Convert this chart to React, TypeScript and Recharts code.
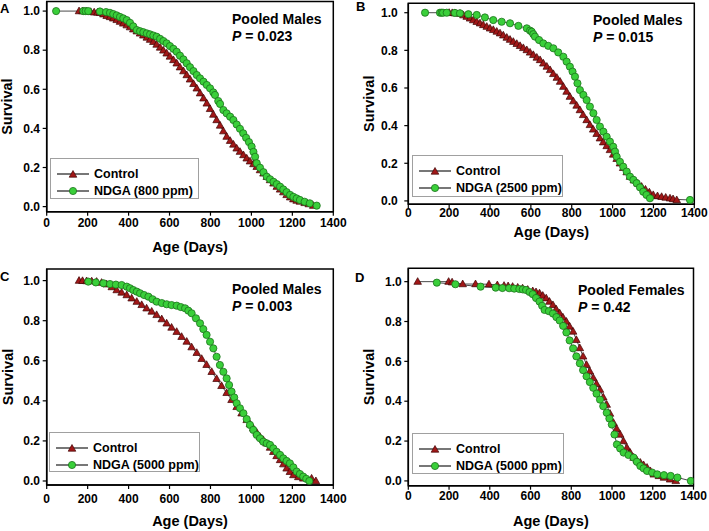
import React from "react";
import { LineChart, Line, XAxis, YAxis, ReferenceArea, Legend } from "recharts";

type Pt = [number, number]; // [age in days, surviving fraction]

const xTicks = [0, 200, 400, 600, 800, 1000, 1200, 1400];
const yTicks = [0, 0.2, 0.4, 0.6, 0.8, 1.0];
const panelLetters = ["A", "B", "C", "D"];
const cohorts = ["Pooled Males", "Pooled Males", "Pooled Males", "Pooled Females"];
const pValues = ["0.023", "0.015", "0.003", "0.42"];
const doses = ["NDGA (800 ppm)", "NDGA (2500 ppm)", "NDGA (5000 ppm)", "NDGA (5000 ppm)"];

const controlA: Pt[] = [
  [158, 1.0], [175, 1.0], [195, 0.998], [215, 0.996], [232, 0.994], [248, 0.993], [261, 0.991], [277, 0.984],
  [293, 0.976], [309, 0.97], [325, 0.963], [342, 0.955], [358, 0.946], [374, 0.937], [391, 0.928], [407, 0.918],
  [423, 0.907], [440, 0.897], [456, 0.886], [472, 0.876], [489, 0.865], [505, 0.854], [521, 0.843], [537, 0.829],
  [554, 0.814], [570, 0.799], [586, 0.784], [602, 0.768], [619, 0.75], [635, 0.733], [651, 0.713], [668, 0.693],
  [684, 0.673], [700, 0.651], [717, 0.628], [733, 0.605], [749, 0.58], [766, 0.554], [782, 0.528], [798, 0.5],
  [814, 0.471], [830, 0.443], [847, 0.415], [863, 0.386], [879, 0.358], [896, 0.337], [912, 0.318], [928, 0.298],
  [944, 0.281], [961, 0.264], [977, 0.247], [993, 0.232], [1010, 0.218], [1026, 0.204], [1042, 0.187],
  [1059, 0.17], [1075, 0.153], [1091, 0.136], [1108, 0.119], [1124, 0.102], [1140, 0.088], [1156, 0.074],
  [1172, 0.06], [1189, 0.048], [1205, 0.038], [1221, 0.031], [1237, 0.026], [1260, 0.019], [1280, 0.013],
  [1302, 0.005],
];
const ndgaA: Pt[] = [
  [46, 1.0], [179, 1.0], [190, 1.0], [203, 1.0], [260, 0.998], [290, 0.995], [309, 0.991], [325, 0.985],
  [342, 0.978], [358, 0.97], [374, 0.963], [391, 0.954], [407, 0.94], [423, 0.922], [440, 0.903], [456, 0.897],
  [472, 0.892], [489, 0.886], [505, 0.881], [521, 0.875], [537, 0.869], [554, 0.858], [570, 0.847], [586, 0.835],
  [602, 0.821], [619, 0.807], [635, 0.792], [651, 0.772], [668, 0.753], [684, 0.733], [700, 0.713], [717, 0.693],
  [733, 0.673], [749, 0.656], [766, 0.639], [782, 0.622], [798, 0.605], [814, 0.584], [822, 0.571], [838, 0.54],
  [847, 0.525], [863, 0.494], [879, 0.477], [896, 0.46], [912, 0.443], [928, 0.42], [944, 0.398], [960, 0.375],
  [974, 0.352], [988, 0.33], [1001, 0.307], [1010, 0.28], [1018, 0.255], [1026, 0.222], [1042, 0.199],
  [1059, 0.176], [1075, 0.153], [1091, 0.14], [1108, 0.127], [1124, 0.115], [1140, 0.102], [1156, 0.088],
  [1172, 0.074], [1189, 0.06], [1205, 0.05], [1221, 0.042], [1237, 0.034], [1260, 0.025], [1285, 0.017],
  [1319, 0.005],
];

const controlB: Pt[] = [
  [200, 1.0], [215, 0.999], [228, 0.998], [253, 0.995], [270, 0.987], [286, 0.979], [302, 0.97], [318, 0.961],
  [335, 0.952], [351, 0.944], [367, 0.935], [384, 0.926], [400, 0.917], [416, 0.909], [433, 0.9], [449, 0.891],
  [465, 0.88], [482, 0.868], [498, 0.857], [514, 0.846], [531, 0.835], [547, 0.824], [563, 0.813], [580, 0.802],
  [596, 0.789], [612, 0.776], [629, 0.762], [645, 0.749], [661, 0.731], [678, 0.714], [694, 0.696], [710, 0.675],
  [727, 0.655], [743, 0.634], [759, 0.607], [775, 0.581], [791, 0.554], [808, 0.53], [824, 0.507], [840, 0.483],
  [856, 0.457], [873, 0.43], [889, 0.404], [905, 0.38], [922, 0.357], [938, 0.333], [954, 0.312], [971, 0.292],
  [987, 0.271], [1003, 0.247], [1020, 0.224], [1036, 0.2], [1052, 0.176], [1069, 0.153], [1085, 0.129],
  [1104, 0.11], [1123, 0.093], [1142, 0.076], [1161, 0.061], [1180, 0.046], [1199, 0.032], [1220, 0.026],
  [1240, 0.022], [1260, 0.018], [1281, 0.014], [1296, 0.01], [1314, 0.005],
];
const ndgaB: Pt[] = [
  [82, 1.0], [155, 1.0], [163, 1.0], [170, 1.0], [188, 1.0], [228, 0.999], [253, 0.997], [294, 0.992],
  [335, 0.988], [375, 0.975], [416, 0.961], [457, 0.952], [498, 0.944], [539, 0.93], [580, 0.917], [596, 0.905],
  [604, 0.899], [612, 0.886], [620, 0.873], [640, 0.855], [661, 0.837], [685, 0.824], [710, 0.811], [734, 0.789],
  [759, 0.766], [775, 0.74], [791, 0.713], [804, 0.687], [816, 0.66], [828, 0.625], [840, 0.589], [857, 0.563],
  [873, 0.536], [889, 0.501], [906, 0.466], [922, 0.43], [938, 0.395], [955, 0.368], [971, 0.341], [987, 0.315],
  [1003, 0.288], [1012, 0.262], [1020, 0.235], [1036, 0.208], [1052, 0.182], [1069, 0.156], [1085, 0.129],
  [1102, 0.112], [1118, 0.094], [1134, 0.072], [1150, 0.049], [1166, 0.032], [1183, 0.014], [1379, 0.005],
];

const controlC: Pt[] = [
  [158, 1.0], [175, 0.999], [195, 0.998], [220, 0.997], [244, 0.995], [268, 0.99], [293, 0.982], [318, 0.968],
  [342, 0.953], [366, 0.941], [391, 0.928], [415, 0.912], [440, 0.895], [464, 0.879], [488, 0.862], [513, 0.846],
  [537, 0.829], [562, 0.808], [586, 0.787], [610, 0.766], [635, 0.745], [659, 0.72], [684, 0.696], [708, 0.668],
  [733, 0.64], [757, 0.61], [781, 0.58], [806, 0.545], [830, 0.51], [854, 0.475], [879, 0.44], [903, 0.405],
  [928, 0.37], [952, 0.338], [977, 0.305], [993, 0.284], [1009, 0.263], [1026, 0.242], [1042, 0.221],
  [1058, 0.205], [1074, 0.188], [1091, 0.167], [1107, 0.146], [1123, 0.125], [1140, 0.105], [1156, 0.084],
  [1172, 0.063], [1188, 0.046], [1205, 0.03], [1229, 0.02], [1253, 0.013], [1294, 0.013], [1315, 0.0],
];
const ndgaC: Pt[] = [
  [203, 0.995], [240, 0.991], [277, 0.987], [309, 0.983], [338, 0.98], [366, 0.978], [391, 0.97], [407, 0.962],
  [423, 0.953], [440, 0.945], [456, 0.937], [476, 0.928], [497, 0.92], [517, 0.907], [537, 0.895], [562, 0.888],
  [586, 0.882], [610, 0.878], [635, 0.875], [655, 0.868], [676, 0.862], [692, 0.85], [708, 0.837], [729, 0.812],
  [749, 0.787], [765, 0.758], [781, 0.729], [798, 0.695], [814, 0.662], [830, 0.62], [846, 0.579], [863, 0.545],
  [879, 0.512], [891, 0.479], [903, 0.446], [916, 0.417], [928, 0.388], [944, 0.363], [961, 0.338], [977, 0.309],
  [993, 0.28], [1009, 0.255], [1026, 0.23], [1042, 0.213], [1058, 0.196], [1075, 0.188], [1091, 0.18],
  [1107, 0.163], [1123, 0.146], [1140, 0.13], [1156, 0.113], [1172, 0.1], [1188, 0.088], [1205, 0.068],
  [1221, 0.047], [1237, 0.035], [1253, 0.022], [1268, 0.011], [1283, 0.0],
];

const controlD: Pt[] = [
  [46, 1.0], [198, 1.0], [215, 0.997], [267, 0.988], [330, 0.988], [396, 0.987], [437, 0.983], [470, 0.98],
  [490, 0.978], [512, 0.975], [537, 0.971], [561, 0.967], [586, 0.96], [611, 0.953], [627, 0.948], [644, 0.942],
  [660, 0.93], [677, 0.917], [693, 0.9], [710, 0.883], [726, 0.862], [743, 0.842], [759, 0.821], [776, 0.8],
  [792, 0.775], [809, 0.75], [825, 0.708], [842, 0.667], [858, 0.625], [875, 0.583], [891, 0.55], [908, 0.517],
  [924, 0.487], [941, 0.458], [957, 0.42], [974, 0.383], [990, 0.338], [1007, 0.292], [1023, 0.262],
  [1040, 0.233], [1056, 0.2], [1073, 0.167], [1089, 0.142], [1106, 0.117], [1122, 0.104], [1139, 0.092],
  [1155, 0.08], [1172, 0.067], [1188, 0.05], [1205, 0.033], [1230, 0.025], [1255, 0.017], [1285, 0.008],
  [1313, 0.0],
];
const ndgaD: Pt[] = [
  [140, 0.995], [231, 0.987], [355, 0.975], [429, 0.97], [462, 0.968], [495, 0.967], [520, 0.965], [545, 0.963],
  [562, 0.961], [578, 0.958], [595, 0.948], [611, 0.937], [627, 0.918], [644, 0.9], [657, 0.879], [669, 0.858],
  [690, 0.852], [710, 0.84], [727, 0.822], [743, 0.805], [760, 0.778], [776, 0.745], [792, 0.705], [809, 0.665],
  [825, 0.625], [842, 0.59], [858, 0.556], [875, 0.525], [891, 0.496], [908, 0.467], [924, 0.438], [941, 0.408],
  [957, 0.375], [974, 0.342], [987, 0.313], [999, 0.283], [1012, 0.233], [1024, 0.183], [1040, 0.163],
  [1057, 0.142], [1081, 0.13], [1106, 0.117], [1122, 0.096], [1139, 0.075], [1155, 0.063], [1172, 0.05],
  [1197, 0.042], [1222, 0.033], [1255, 0.029], [1288, 0.025], [1321, 0.017], [1387, 0.0],
];

const controls = [controlA, controlB, controlC, controlD];
const treated = [ndgaA, ndgaB, ndgaC, ndgaD];

const layouts = [
  { box: [0, 0, 354, 265], plot: [46.7, 333.3, 1.5, 211.7], yDomain: [-0.026, 1.049], xtm: 2.5, ytm: 2.7, xTitle: 248, yTitle: 6.7, key: [50, 158, 149, 41], note: [232, 11.1, 16.4], letter: [0, 8] },
  { box: [355, 0, 354, 265], plot: [408.3, 694.3, 3.3, 204.3], yDomain: [-0.018, 1.05], xtm: 0, ytm: 6.6, xTitle: 233.3, yTitle: 369, key: [412, 155, 151, 42], note: [593, 12.3, 16.2], letter: [356, 6] },
  { box: [0, 265, 354, 266], plot: [46.7, 333.3, 269, 485], yDomain: [-0.02, 1.058], xtm: 5, ytm: 2.7, xTitle: 521.7, yTitle: 7.5, key: [49, 432, 151, 40], note: [232, 281, 17.3], letter: [0, 276] },
  { box: [355, 265, 354, 266], plot: [408.3, 693.5, 268.3, 485.7], yDomain: [-0.024, 1.067], xtm: 2, ytm: 2.6, xTitle: 521.7, yTitle: 369, key: [412, 433, 152, 41], note: [578, 281.9, 17.6], letter: [355, 276.7] },
];

const Y_AXIS_W = 40;
const X_AXIS_H = 45;
const RED = "#a11717";
const RED_EDGE = "#3d0505";
const GREEN = "#3acf3a";
const GREEN_EDGE = "#1c721c";
const LINE = "#4a4a4a";

function Tri({ cx, cy }: { cx?: number; cy?: number }) {
  if (cx == null || cy == null) return null;
  return (
    <path
      d={`M${cx},${cy - 4} L${cx + 3.8},${cy + 2.7} L${cx - 3.8},${cy + 2.7} Z`}
      fill={RED}
      stroke={RED_EDGE}
      strokeWidth={0.7}
    />
  );
}

function Dot({ cx, cy }: { cx?: number; cy?: number }) {
  if (cx == null || cy == null) return null;
  return <circle cx={cx} cy={cy} r={3.6} fill={GREEN} stroke={GREEN_EDGE} strokeWidth={0.8} />;
}

function KeyRow({ y, label, tri }: { y: number; label: string; tri: boolean }) {
  return (
    <>
      <svg width={36} height={12} style={{ position: "absolute", left: 5, top: y - 6 }}>
        <line x1={1} y1={6} x2={33} y2={6} stroke="#555" strokeWidth={1.6} />
        {tri ? <Tri cx={17} cy={6.5} /> : <Dot cx={17} cy={6} />}
      </svg>
      <div
        style={{
          position: "absolute",
          left: 43,
          top: y,
          transform: "translateY(-50%)",
          fontSize: 12.5,
          fontWeight: "bold",
          lineHeight: 1,
          whiteSpace: "nowrap",
        }}
      >
        {label}
      </div>
    </>
  );
}

function KeyBox({ w, h, dose }: { w: number; h: number; dose: string }) {
  return (
    <div
      style={{
        position: "relative",
        width: w,
        height: h,
        boxSizing: "border-box",
        border: "1px solid #a0a0a0",
        background: "#fff",
      }}
    >
      <KeyRow y={15} label="Control" tri />
      <KeyRow y={31.5} label={dose} tri={false} />
    </div>
  );
}

function Panel({ i }: { i: number }) {
  const L = layouts[i];
  const [bx, by, bw, bh] = L.box;
  const [px0, px1, py0, py1] = L.plot;
  const margin = {
    left: px0 - bx - Y_AXIS_W,
    right: bx + bw - px1,
    top: py0 - by,
    bottom: by + bh - py1 - X_AXIS_H,
  };
  const ctrl = controls[i].map(([age, surv]) => ({ age, surv }));
  const ndga = treated[i].map(([age, surv]) => ({ age, surv }));
  const tickStyle = { fill: "#000", fontSize: 12, fontWeight: "bold" as const };
  const [kx, ky, kw, kh] = L.key;
  const [nx, ntop, nlh] = L.note;

  return (
    <div style={{ position: "absolute", left: bx, top: by, width: bw, height: bh }}>
      <LineChart width={bw} height={bh} margin={margin}>
        <XAxis
          type="number"
          dataKey="age"
          domain={[0, 1400]}
          ticks={xTicks}
          allowDataOverflow
          height={X_AXIS_H}
          tick={tickStyle}
          tickSize={4}
          tickMargin={L.xtm}
          axisLine={{ stroke: "#000", strokeWidth: 1.5 }}
          tickLine={{ stroke: "#000", strokeWidth: 1.2 }}
          label={{
            value: "Age (Days)",
            position: "insideBottom",
            offset: py1 + X_AXIS_H - (L.xTitle + 4),
            style: { fill: "#000", fontSize: 14.5, fontWeight: "bold" },
          }}
        />
        <YAxis
          type="number"
          domain={L.yDomain}
          ticks={yTicks}
          allowDataOverflow
          width={Y_AXIS_W}
          tick={tickStyle}
          tickFormatter={(v: number) => v.toFixed(1)}
          tickSize={4}
          tickMargin={L.ytm}
          axisLine={{ stroke: "#000", strokeWidth: 1.5 }}
          tickLine={{ stroke: "#000", strokeWidth: 1.2 }}
          label={{
            value: "Survival",
            angle: -90,
            position: "insideLeft",
            offset: L.yTitle - bx - margin.left,
            style: { textAnchor: "middle", fill: "#000", fontSize: 14.5, fontWeight: "bold" },
          }}
        />
        <ReferenceArea
          x1={0}
          x2={1400}
          y1={L.yDomain[0]}
          y2={L.yDomain[1]}
          fill="none"
          fillOpacity={0}
          stroke="#000"
          strokeWidth={1.5}
          ifOverflow="visible"
        />
        <Line
          data={ctrl}
          dataKey="surv"
          name="Control"
          stroke={LINE}
          strokeWidth={1}
          dot={(p: any) => <Tri key={`c${p.index}`} cx={p.cx} cy={p.cy} />}
          activeDot={false}
          isAnimationActive={false}
        />
        <Line
          data={ndga}
          dataKey="surv"
          name={doses[i]}
          stroke={LINE}
          strokeWidth={1}
          dot={(p: any) => <Dot key={`n${p.index}`} cx={p.cx} cy={p.cy} />}
          activeDot={false}
          isAnimationActive={false}
        />
        <Legend
          layout="vertical"
          align="center"
          verticalAlign="middle"
          wrapperStyle={{ left: kx - bx, top: ky - by, width: kw, height: kh }}
          content={() => <KeyBox w={kw} h={kh} dose={doses[i]} />}
        />
      </LineChart>

      <div style={{ position: "absolute", left: L.letter[0] - bx, top: L.letter[1] - by, transform: "translateY(-50%)", fontSize: 13, fontWeight: "bold", lineHeight: 1 }}>
        {panelLetters[i]}
      </div>
      <div
        style={{
          position: "absolute",
          left: nx - bx,
          top: ntop - by,
          fontSize: 14,
          fontWeight: "bold",
          lineHeight: `${nlh}px`,
          whiteSpace: "nowrap",
        }}
      >
        {cohorts[i]}
        <br />
        <i>P</i> = {pValues[i]}
      </div>
    </div>
  );
}

export default function App() {
  return (
    <div
      style={{
        position: "absolute",
        left: 0,
        top: 0,
        width: 709,
        height: 531,
        background: "#fff",
        fontFamily: '"Liberation Sans", Arial, sans-serif',
        color: "#000",
        overflow: "hidden",
      }}
    >
      {[0, 1, 2, 3].map((i) => (
        <Panel key={i} i={i} />
      ))}
    </div>
  );
}
